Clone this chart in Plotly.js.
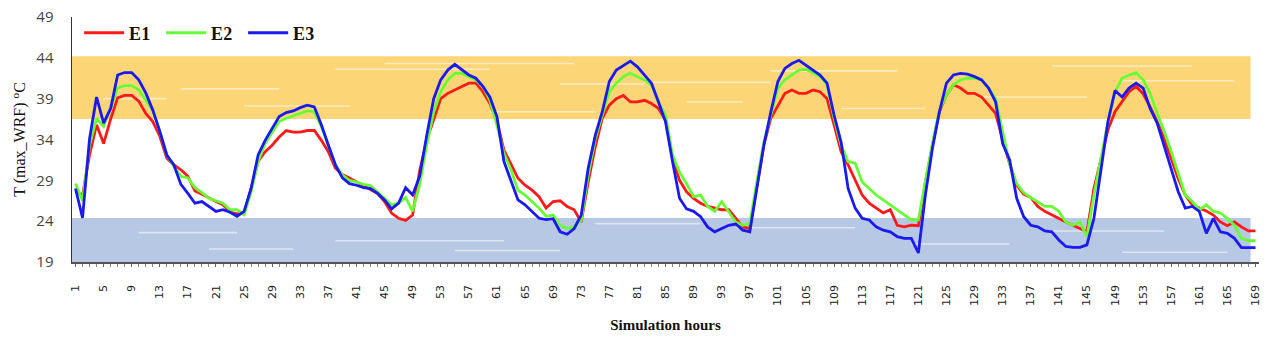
<!DOCTYPE html>
<html>
<head>
<meta charset="utf-8">
<script src="https://cdn.plot.ly/plotly-3.0.1.min.js"></script>
<style>
html,body{margin:0;padding:0;background:#fff;}
#chart{width:1268px;height:338px;}
</style>
</head>
<body>
<div id="chart"></div>
<script>
// Simulation hours 1..169
const hours = [
  1,2,3,4,5,6,7,8,9,10,11,12,13,14,15,16,17,18,19,20,
  21,22,23,24,25,26,27,28,29,30,31,32,33,34,35,36,37,38,39,40,
  41,42,43,44,45,46,47,48,49,50,51,52,53,54,55,56,57,58,59,60,
  61,62,63,64,65,66,67,68,69,70,71,72,73,74,75,76,77,78,79,80,
  81,82,83,84,85,86,87,88,89,90,91,92,93,94,95,96,97,98,99,100,
  101,102,103,104,105,106,107,108,109,110,111,112,113,114,115,116,117,118,119,120,
  121,122,123,124,125,126,127,128,129,130,131,132,133,134,135,136,137,138,139,140,
  141,142,143,144,145,146,147,148,149,150,151,152,153,154,155,156,157,158,159,160,
  161,162,163,164,165,166,167,168,169
];

const E1 = [
  27.6,27.2,32.1,35.8,33.5,36.5,39.1,39.4,39.4,38.7,37.2,36.2,34.4,31.7,30.9,30.3,29.5,27.7,27.3,26.8,
  26.4,26.0,25.1,24.9,25.0,28.0,31.3,32.5,33.3,34.3,35.1,34.9,34.9,35.1,35.1,33.9,32.5,30.5,29.7,29.3,
  28.8,28.3,27.8,27.4,26.4,25.0,24.35,24.1,24.75,30.2,33.9,36.4,39.0,39.65,40.05,40.5,40.9,40.9,39.85,38.4,
  36.2,32.7,30.9,29.25,28.4,27.8,27.0,25.6,26.4,26.5,25.8,25.4,23.9,28.8,33.1,36.6,38.2,39.0,39.4,38.6,
  38.6,38.8,38.4,37.8,36.4,31.7,29.0,27.6,26.8,26.2,25.8,25.6,25.4,25.4,24.35,23.3,23.1,28.4,33.3,36.6,
  38.2,39.65,40.05,39.65,39.65,40.05,39.85,39.0,35.8,32.5,30.9,29.0,27.2,26.2,25.6,25.0,25.4,23.5,23.3,23.5,
  23.45,28.8,33.3,37.4,39.45,40.7,40.3,39.65,39.65,39.2,38.2,37.2,34.0,31.0,28.4,27.3,26.9,25.8,25.2,24.8,
  24.35,23.9,23.5,23.1,22.7,28.0,31.7,35.2,37.4,38.6,39.85,40.5,39.6,38.0,36.2,34.1,31.7,29.2,27.2,26.0,
  25.6,25.25,24.75,23.9,23.45,23.9,23.3,22.8,22.8
];

const E2 = [
  28.6,26.5,33.3,36.6,35.6,37.8,40.3,40.6,40.6,40.1,38.8,37.6,35.0,32.1,30.7,29.5,29.3,28.1,27.5,26.8,
  26.5,26.2,25.4,25.4,24.8,27.6,31.3,33.5,34.9,36.2,36.6,36.9,37.2,37.5,37.4,35.6,33.3,30.9,29.65,29.0,
  28.8,28.5,28.35,27.6,26.8,26.0,26.2,26.9,25.2,28.5,33.3,37.4,39.85,41.3,42.1,42.1,41.7,41.3,40.5,38.8,
  35.8,32.3,30.3,27.8,27.2,26.4,25.6,24.6,24.75,23.5,23.1,23.3,24.1,29.65,34.1,37.0,39.85,40.9,41.7,42.1,
  41.7,41.3,40.7,38.6,37.0,32.1,30.0,28.6,27.0,27.2,25.8,25.2,26.4,25.2,23.9,23.5,23.7,28.8,33.7,37.0,
  40.3,41.3,41.9,42.5,42.6,42.1,41.7,40.7,36.6,33.3,31.3,31.1,28.8,28.0,27.2,26.6,26.0,25.4,24.75,24.15,
  24.15,29.0,33.5,37.6,39.45,40.7,41.3,41.5,41.5,41.3,40.3,39.0,35.0,31.0,28.6,27.5,26.9,26.4,25.8,25.8,
  25.2,23.9,23.5,23.9,22.1,27.2,31.7,36.2,39.8,41.5,41.9,42.2,41.3,39.65,37.2,35.0,32.5,29.85,27.2,26.4,
  25.4,26.0,25.2,25.0,24.35,23.5,21.9,21.6,21.6
];

const E3 = [
  28.0,24.4,34.1,39.2,36.0,37.8,41.9,42.2,42.2,41.3,39.7,37.6,35.0,32.1,30.9,28.5,27.4,26.2,26.4,25.8,
  25.2,25.4,25.1,24.6,25.2,28.0,32.1,33.9,35.3,36.8,37.3,37.5,37.9,38.2,38.0,35.8,33.3,30.9,29.3,28.6,
  28.4,28.1,28.0,27.4,26.6,25.5,26.2,28.1,27.2,29.5,34.5,39.0,41.3,42.5,43.2,42.5,41.9,41.5,40.5,39.2,
  36.8,31.3,29.0,26.6,26.0,25.2,24.35,24.2,24.3,22.7,22.4,23.1,24.75,30.5,34.5,37.4,41.1,42.5,43.1,43.6,
  42.9,41.9,40.9,38.6,36.2,31.3,26.8,25.5,25.2,24.55,23.3,22.7,23.1,23.5,23.65,22.9,22.7,28.0,33.3,37.4,
  41.1,42.7,43.3,43.7,43.1,42.5,41.9,40.9,37.0,33.7,28.0,25.6,24.35,24.15,23.3,22.9,22.7,22.1,21.9,21.9,
  20.1,27.2,32.9,37.4,40.9,41.9,42.1,42.0,41.7,41.3,40.3,38.6,33.5,31.5,26.8,24.55,23.5,23.3,22.8,22.7,
  21.7,20.9,20.8,20.8,21.1,24.35,30.5,36.2,40.0,39.2,40.3,40.9,40.3,37.8,36.0,33.3,30.5,27.6,25.6,25.8,
  25.2,22.5,24.35,22.7,22.5,21.9,20.75,20.75,20.75
];

const xTickVals = [1,5,9,13,17,21,25,29,33,37,41,45,49,53,57,61,65,69,73,77,81,85,89,93,97,
  101,105,109,113,117,121,125,129,133,137,141,145,149,153,157,161,165,169];
const xTickLabels = ["1","5","9","13","17","21","25","29","33","37","41","45","49","53","57","61","65","69","73","77","81","85","89","93","97",
  "101","105","109","113","117","121","125","129","133","137","141","145","149","153","157","161","165","169"];
const yTickVals = [19,24,29,34,39,44,49];

const seriesNames = ["E1","E2","E3"];
const seriesColors = ["#ff1a1a","#66ff33","#1a1aee"];

// threshold bands
const hotBand = [36.5, 44.2];
const coolBand = [19, 24.4];

const traces = [E1, E2, E3].map((ys, k) => ({
  type: 'scatter', mode: 'lines', x: hours, y: ys, name: '<b>' + seriesNames[k] + '</b>',
  line: {color: seriesColors[k], width: 2.8}
}));

const shapes = [
  {type:'rect', xref:'x', yref:'y', x0:0.3, x1:168.3, y0:hotBand[0], y1:hotBand[1],
   fillcolor:'rgba(250,190,40,0.64)', line:{width:0}, layer:'below'},
  {type:'rect', xref:'x', yref:'y', x0:0.3, x1:168.3, y0:coolBand[0], y1:coolBand[1],
   fillcolor:'rgba(110,145,200,0.50)', line:{width:0}, layer:'below'}
];
// texture streaks (decorative)
const streaks = [
  [38,60,42.6],[16,30,40.2],[45,72,43.3],[25,40,38.1],[82,100,41.0],[100,118,42.4],[130,145,39.2],
  [60,75,37.4],[140,160,43.0],[5,14,39.0],[110,122,37.8],[70,82,40.8],[150,166,41.2],[88,96,38.6],
  [38,62,21.6],[10,24,22.6],[55,70,20.4],[95,112,23.2],[120,134,21.2],[140,156,22.8],[20,32,20.6],[75,90,23.7],[150,165,20.2]
];
streaks.forEach(s => shapes.push({type:'line', xref:'x', yref:'y', x0:s[0], x1:s[1], y0:s[2], y1:s[2],
  line:{color:'rgba(255,255,255,0.55)', width:1.6}, layer:'below'}));

const layout = {
  width: 1268, height: 338,
  margin: {l:72, r:9, t:17, b:76},
  paper_bgcolor:'#fff', plot_bgcolor:'#fff',
  showlegend: true,
  legend: {orientation:'h', x:0.006, y:1.01, xanchor:'left', yanchor:'top',
    bgcolor:'rgba(0,0,0,0)', font:{family:'Liberation Serif, serif', size:18, color:'#111'},
    itemwidth:40, entrywidth:27, entrywidthmode:'pixels', tracegroupgap:0},
  xaxis: {
    range:[0.5,169.5], tickmode:'array', tickvals:xTickVals, ticktext:xTickLabels,
    tickangle:-90, tickfont:{family:'DejaVu Sans, sans-serif', size:11, color:'#222'},
    ticks:'outside', ticklen:3, tickcolor:'#666', ticklabelstandoff:14,
    minor:{dtick:1, tick0:1, ticks:'outside', ticklen:3, tickcolor:'#888'},
    showline:true, linecolor:'#555', linewidth:1.5, showgrid:false, zeroline:false,
    title:{text:'<b>Simulation hours</b>', font:{family:'Liberation Serif, serif', size:15, color:'#111'}, standoff:14}
  },
  yaxis: {
    range:[19,49], tickmode:'array', tickvals:yTickVals,
    tickfont:{family:'Open Sans, sans-serif', size:15, color:'#444'},
    ticks:'', ticklabelstandoff:14,
    showline:true, linecolor:'#333', linewidth:1.5, showgrid:false, zeroline:false,
    title:{text:'T (max_WRF) <sup>o</sup>C', font:{family:'Liberation Serif, serif', size:16, color:'#111'}, standoff:6}
  },
  shapes: shapes
};

Plotly.newPlot('chart', traces, layout, {displayModeBar:false, staticPlot:true});
</script>
</body>
</html>
